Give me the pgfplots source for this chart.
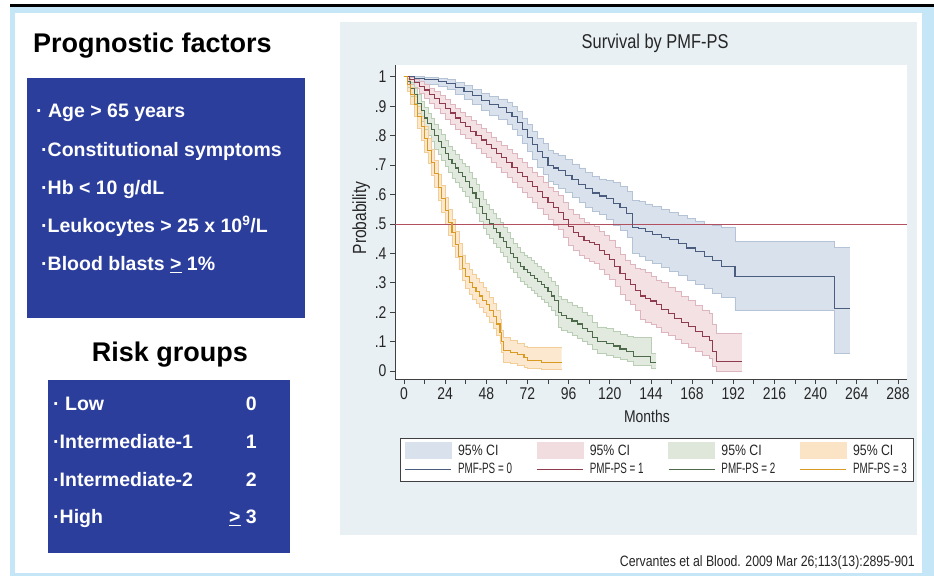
\documentclass[border=0pt]{standalone}
\usepackage{fontspec}
\setmainfont{Liberation Sans}
\newfontfamily\chartfont[FakeStretch=0.82]{Liberation Sans}
\usepackage{graphicx}
\usepackage{pgfplots}
\pgfplotsset{compat=1.18}
\usepgfplotslibrary{fillbetween}
\usepackage{pgfplotstable}

\pgfdeclarelayer{slidebg}
\pgfplotsset{
  layers/slide/.define layer set={slidebg,axis background,axis grid,axis ticks,axis lines,axis tick labels,pre main,main,axis descriptions,axis foreground}{/pgfplots/layers/standard},
}

\definecolor{slideblue}{HTML}{C5E6F7}
\definecolor{boxblue}{HTML}{2C3E9C}
\definecolor{panel}{HTML}{E8F0F4}
\definecolor{lineA}{HTML}{4B5D7E}
\definecolor{ciA}{HTML}{D9E2EC}
\definecolor{edgeA}{HTML}{B4C4D6}
\definecolor{lineB}{HTML}{8E3B4E}
\definecolor{ciB}{HTML}{F1DCE0}
\definecolor{edgeB}{HTML}{DDB6BF}
\definecolor{lineC}{HTML}{4D6B4A}
\definecolor{ciC}{HTML}{DEE7DA}
\definecolor{edgeC}{HTML}{BACDB5}
\definecolor{lineD}{HTML}{D99A22}
\definecolor{ciD}{HTML}{FBE4C6}
\definecolor{edgeD}{HTML}{F2CD98}
\definecolor{refline}{HTML}{B3505F}

% PMF-PS = 0 (low)
\pgfplotstableread{
t s lo hi
0 1.000 1.000 1.000
6 0.995 0.985 1.000
12 0.990 0.975 0.997
20 0.985 0.968 0.995
25 0.978 0.958 0.990
30 0.965 0.940 0.980
35 0.950 0.922 0.970
40 0.935 0.905 0.958
45 0.920 0.887 0.945
50 0.905 0.869 0.933
55 0.895 0.857 0.925
60 0.880 0.840 0.913
63 0.865 0.823 0.900
66 0.845 0.800 0.882
69 0.820 0.773 0.860
72 0.795 0.746 0.837
75 0.770 0.719 0.814
78 0.745 0.692 0.791
81 0.725 0.670 0.773
84 0.700 0.644 0.750
87 0.690 0.633 0.741
90 0.680 0.622 0.732
94 0.665 0.606 0.718
98 0.650 0.590 0.704
102 0.635 0.574 0.690
106 0.620 0.558 0.676
110 0.605 0.542 0.662
114 0.595 0.531 0.653
118 0.585 0.515 0.648
122 0.570 0.495 0.640
126 0.555 0.478 0.628
130 0.535 0.455 0.610
133 0.488 0.400 0.580
137 0.483 0.390 0.576
141 0.475 0.378 0.568
145 0.465 0.365 0.560
150 0.455 0.352 0.550
155 0.446 0.338 0.540
160 0.432 0.325 0.530
165 0.418 0.310 0.520
170 0.405 0.295 0.510
175 0.390 0.280 0.500
180 0.375 0.265 0.495
185 0.355 0.250 0.490
193 0.322 0.208 0.440
251 0.213 0.060 0.420
260 0.213 0.060 0.420
}\grpA

% PMF-PS = 1
\pgfplotstableread{
t s lo hi
0 1.000 1.000 1.000
3 0.990 0.975 0.997
6 0.980 0.960 0.992
9 0.968 0.945 0.985
12 0.955 0.928 0.975
15 0.940 0.910 0.962
18 0.925 0.893 0.950
21 0.910 0.875 0.937
24 0.893 0.857 0.922
27 0.877 0.840 0.907
30 0.860 0.822 0.893
33 0.845 0.805 0.880
36 0.830 0.790 0.866
39 0.815 0.773 0.852
42 0.800 0.757 0.838
45 0.785 0.741 0.825
48 0.770 0.725 0.810
51 0.755 0.709 0.796
54 0.740 0.692 0.782
57 0.725 0.676 0.768
60 0.710 0.660 0.754
63 0.693 0.642 0.739
66 0.676 0.624 0.723
69 0.660 0.607 0.708
72 0.643 0.589 0.692
75 0.627 0.572 0.677
78 0.610 0.554 0.661
81 0.590 0.533 0.643
84 0.572 0.514 0.626
87 0.555 0.496 0.610
90 0.540 0.480 0.596
93 0.515 0.455 0.572
96 0.490 0.429 0.548
99 0.472 0.410 0.531
102 0.458 0.395 0.518
105 0.445 0.382 0.506
108 0.437 0.373 0.499
111 0.430 0.366 0.493
114 0.410 0.345 0.474
117 0.395 0.329 0.460
120 0.380 0.313 0.446
123 0.355 0.288 0.422
126 0.330 0.262 0.398
129 0.310 0.242 0.378
132 0.295 0.226 0.363
135 0.275 0.206 0.350
138 0.255 0.175 0.345
141 0.247 0.167 0.335
144 0.238 0.160 0.322
147 0.225 0.148 0.310
150 0.210 0.133 0.300
154 0.195 0.120 0.285
158 0.180 0.107 0.270
162 0.165 0.093 0.255
166 0.150 0.080 0.240
170 0.135 0.068 0.225
174 0.118 0.055 0.208
178 0.105 0.045 0.195
180 0.065 0.015 0.160
182 0.032 0.000 0.128
197 0.032 0.000 0.128
}\grpB

% PMF-PS = 2
\pgfplotstableread{
t s lo hi
0 1.000 1.000 1.000
2 0.985 0.965 0.995
4 0.960 0.935 0.980
6 0.940 0.910 0.965
8 0.910 0.875 0.940
10 0.885 0.850 0.915
12 0.860 0.820 0.895
14 0.840 0.800 0.875
16 0.820 0.780 0.860
18 0.800 0.755 0.840
20 0.780 0.735 0.820
22 0.760 0.715 0.805
24 0.740 0.695 0.785
26 0.720 0.675 0.765
28 0.705 0.655 0.750
30 0.690 0.640 0.735
32 0.675 0.625 0.720
34 0.660 0.610 0.705
36 0.645 0.595 0.695
38 0.625 0.575 0.675
40 0.605 0.555 0.655
42 0.585 0.535 0.635
44 0.560 0.510 0.610
46 0.535 0.485 0.585
48 0.515 0.465 0.565
50 0.500 0.450 0.550
52 0.485 0.435 0.535
54 0.470 0.420 0.520
56 0.455 0.405 0.505
58 0.440 0.390 0.490
60 0.420 0.370 0.470
62 0.400 0.350 0.450
64 0.385 0.335 0.435
66 0.370 0.320 0.420
68 0.355 0.305 0.405
70 0.345 0.295 0.395
72 0.335 0.285 0.385
74 0.325 0.275 0.375
76 0.315 0.265 0.365
78 0.305 0.255 0.355
80 0.295 0.245 0.345
82 0.285 0.235 0.335
84 0.270 0.220 0.320
86 0.255 0.205 0.305
88 0.240 0.190 0.290
90 0.200 0.150 0.255
92 0.190 0.140 0.245
95 0.180 0.130 0.235
98 0.170 0.120 0.225
101 0.160 0.110 0.215
104 0.145 0.100 0.200
107 0.135 0.090 0.190
110 0.115 0.075 0.165
113 0.100 0.060 0.150
118 0.095 0.055 0.145
122 0.085 0.048 0.135
126 0.075 0.040 0.125
130 0.065 0.032 0.118
134 0.050 0.020 0.115
138 0.048 0.018 0.115
144 0.028 0.008 0.060
147 0.028 0.008 0.060
}\grpC

% PMF-PS = 3
\pgfplotstableread{
t s lo hi
0 1.000 1.000 1.000
2 0.975 0.950 0.990
4 0.940 0.905 0.965
6 0.905 0.865 0.935
8 0.865 0.825 0.900
10 0.830 0.785 0.865
12 0.790 0.745 0.830
14 0.750 0.705 0.790
16 0.710 0.665 0.755
18 0.670 0.625 0.715
20 0.625 0.580 0.670
22 0.585 0.540 0.630
24 0.545 0.500 0.590
26 0.505 0.460 0.550
28 0.470 0.425 0.515
30 0.430 0.385 0.475
32 0.390 0.345 0.435
34 0.350 0.310 0.395
36 0.320 0.280 0.365
38 0.300 0.260 0.345
40 0.285 0.245 0.330
42 0.270 0.230 0.315
44 0.255 0.215 0.300
46 0.240 0.200 0.285
48 0.225 0.185 0.270
50 0.205 0.165 0.250
52 0.185 0.145 0.230
54 0.160 0.120 0.205
56 0.130 0.095 0.175
57 0.100 0.065 0.140
58 0.070 0.030 0.115
62 0.062 0.025 0.105
66 0.055 0.020 0.095
70 0.045 0.012 0.085
72 0.035 0.008 0.080
80 0.030 0.005 0.080
92 0.030 0.005 0.080
}\grpD

\begin{document}
\begin{tikzpicture}
\begin{axis}[
  set layers=slide,
  at={(395pt,197pt)}, anchor=south west,
  scale only axis, width=512pt, height=314pt,
  xmin=-5.2, xmax=293.3, ymin=-0.027, ymax=1.04,
  axis x line*=bottom, axis y line*=left,
  axis line style={black!75, line width=0.8pt},
  axis background/.style={fill=white},
  xtick={0,24,48,72,96,120,144,168,192,216,240,264,288},
  xticklabels={0,24,48,72,96,120,144,168,192,216,240,264,288},
  minor xtick={12,36,60,84,108,132,156,180,204,228,252,276},
  ytick={0,0.1,0.2,0.3,0.4,0.5,0.6,0.7,0.8,0.9,1},
  yticklabels={0,.1,.2,.3,.4,.5,.6,.7,.8,.9,1},
  tick align=outside, major tick length=5pt, minor tick length=5pt,
  every tick/.style={black!75, line width=0.7pt},
  tick label style={font=\chartfont\fontsize{17}{17}\selectfont, text=black!85},
  title={Survival by PMF-PS},
  title style={at={(axis description cs:0.508,1.05)}, anchor=center, font=\chartfont\fontsize{20}{20}\selectfont, text=black!85},
  xlabel={Months},
  xlabel style={at={(axis description cs:0.492,-0.118)}, anchor=center, font=\chartfont\fontsize{17}{17}\selectfont, text=black!85},
  ylabel={Probability},
  ylabel style={at={(axis description cs:-0.066,0.513)}, anchor=center, font=\chartfont\fontsize{19}{19}\selectfont, text=black!85},
  legend columns=4,
  legend cell align=left,
  legend style={at={(axis description cs:0.511,-0.188)}, anchor=north,
    draw=black!75, fill=white, line width=0.6pt,
    font=\chartfont\fontsize{15}{15}\selectfont, text=black!85,
    inner xsep=5pt, inner ysep=4pt, row sep=3pt,
    nodes={inner sep=1.5pt},
    /tikz/every odd column/.append style={column sep=5pt},
    /tikz/every even column/.append style={column sep=23pt}},
]
% confidence bands
\addplot[const plot, draw=edgeA, line width=0.6pt, name path=Ahi, forget plot] table[x=t,y=hi]{\grpA};
\addplot[const plot, draw=edgeA, line width=0.6pt, name path=Alo, forget plot] table[x=t,y=lo]{\grpA};
\addplot[ciA, forget plot] fill between[of=Ahi and Alo];
\addplot[const plot, draw=edgeB, line width=0.6pt, name path=Bhi, forget plot] table[x=t,y=hi]{\grpB};
\addplot[const plot, draw=edgeB, line width=0.6pt, name path=Blo, forget plot] table[x=t,y=lo]{\grpB};
\addplot[ciB, fill opacity=0.85, forget plot] fill between[of=Bhi and Blo];
\addplot[const plot, draw=edgeC, line width=0.6pt, name path=Chi, forget plot] table[x=t,y=hi]{\grpC};
\addplot[const plot, draw=edgeC, line width=0.6pt, name path=Clo, forget plot] table[x=t,y=lo]{\grpC};
\addplot[ciC, fill opacity=0.85, forget plot] fill between[of=Chi and Clo];
\addplot[const plot, draw=edgeD, line width=0.6pt, name path=Dhi, forget plot] table[x=t,y=hi]{\grpD};
\addplot[const plot, draw=edgeD, line width=0.6pt, name path=Dlo, forget plot] table[x=t,y=lo]{\grpD};
\addplot[ciD, fill opacity=0.85, forget plot] fill between[of=Dhi and Dlo];
% reference line at 0.5
\addplot[refline, line width=0.8pt, forget plot] coordinates {(-5.2,0.5) (293.3,0.5)};
% survival curves
\addplot[const plot, lineA, line width=1.1pt, forget plot] table[x=t,y=s]{\grpA};
\addplot[const plot, lineB, line width=1.1pt, forget plot] table[x=t,y=s]{\grpB};
\addplot[const plot, lineC, line width=1.1pt, forget plot] table[x=t,y=s]{\grpC};
\addplot[const plot, lineD, line width=1.1pt, forget plot] table[x=t,y=s]{\grpD};
% legend
\addlegendimage{legend image code/.code={\fill[ciA] (0pt,-8pt) rectangle (46pt,8pt);}}
\addlegendentry{95\% CI}
\addlegendimage{legend image code/.code={\fill[ciB] (0pt,-8pt) rectangle (46pt,8pt);}}
\addlegendentry{95\% CI}
\addlegendimage{legend image code/.code={\fill[ciC] (0pt,-8pt) rectangle (46pt,8pt);}}
\addlegendentry{95\% CI}
\addlegendimage{legend image code/.code={\fill[ciD] (0pt,-8pt) rectangle (46pt,8pt);}}
\addlegendentry{95\% CI}
\addlegendimage{legend image code/.code={\draw[lineA, line width=0.8pt] (0pt,0pt) -- (46pt,0pt);}}
\addlegendentry{\scalebox{0.8}[1]{PMF-PS = 0}}
\addlegendimage{legend image code/.code={\draw[lineB, line width=0.8pt] (0pt,0pt) -- (46pt,0pt);}}
\addlegendentry{\scalebox{0.8}[1]{PMF-PS = 1}}
\addlegendimage{legend image code/.code={\draw[lineC, line width=0.8pt] (0pt,0pt) -- (46pt,0pt);}}
\addlegendentry{\scalebox{0.8}[1]{PMF-PS = 2}}
\addlegendimage{legend image code/.code={\draw[lineD, line width=0.8pt] (0pt,0pt) -- (46pt,0pt);}}
\addlegendentry{\scalebox{0.8}[1]{PMF-PS = 3}}
\end{axis}

\begin{pgfonlayer}{slidebg}
\fill[white] (0pt,0pt) rectangle (934pt,576pt);
% slide frame
\fill[slideblue] (10pt,0pt) rectangle (15pt,569pt);
\fill[slideblue] (10pt,563pt) rectangle (934pt,569pt);
\fill[slideblue] (922pt,0pt) rectangle (934pt,569pt);
\fill[slideblue] (10pt,0pt) rectangle (934pt,3pt);
\fill[black] (10pt,569pt) rectangle (934pt,572pt);
% chart panel
\fill[panel] (340pt,41pt) rectangle (917pt,554pt);

% left: prognostic factors
\node[anchor=base west, font=\bfseries\fontsize{27}{27}\selectfont, inner sep=0pt] at (33pt,523pt) {Prognostic factors};
\fill[boxblue] (27pt,258pt) rectangle (305pt,498pt);
\begin{scope}[every node/.style={anchor=base west, inner sep=0pt, text=white, font=\bfseries\fontsize{19.5}{19.5}\selectfont}]
\node at (36pt,458pt) {· Age > 65 years};
\node at (41pt,419pt) {·Constitutional symptoms};
\node at (41pt,381pt) {·Hb < 10 g/dL};
\node at (41pt,343pt) {·Leukocytes > 25 x 10\textsuperscript{9}/L};
\node at (41pt,305pt) {·Blood blasts \underline{>} 1\%};
\end{scope}

% left: risk groups
\node[anchor=base, font=\bfseries\fontsize{27}{27}\selectfont, inner sep=0pt] at (170pt,214pt) {Risk groups};
\fill[boxblue] (48pt,23pt) rectangle (290pt,196pt);
\begin{scope}[every node/.style={inner sep=0pt, text=white, font=\bfseries\fontsize{19.5}{19.5}\selectfont}]
\node[anchor=base west] at (53pt,165pt) {· Low};
\node[anchor=base west] at (53pt,127.5pt) {·Intermediate-1};
\node[anchor=base west] at (53pt,90pt) {·Intermediate-2};
\node[anchor=base west] at (53pt,52.5pt) {·High};
\node[anchor=base east] at (257pt,165pt) {0};
\node[anchor=base east] at (257pt,127.5pt) {1};
\node[anchor=base east] at (257pt,90pt) {2};
\node[anchor=base east] at (257pt,52.5pt) {\underline{>} 3};
\end{scope}

% citation
\node[anchor=base east, inner sep=0pt, text=black!85, font=\chartfont\fontsize{15}{15}\selectfont] at (915pt,10pt) {Cervantes et al Blood. 2009 Mar 26;113(13):2895-901};
\end{pgfonlayer}
\end{tikzpicture}
\end{document}
